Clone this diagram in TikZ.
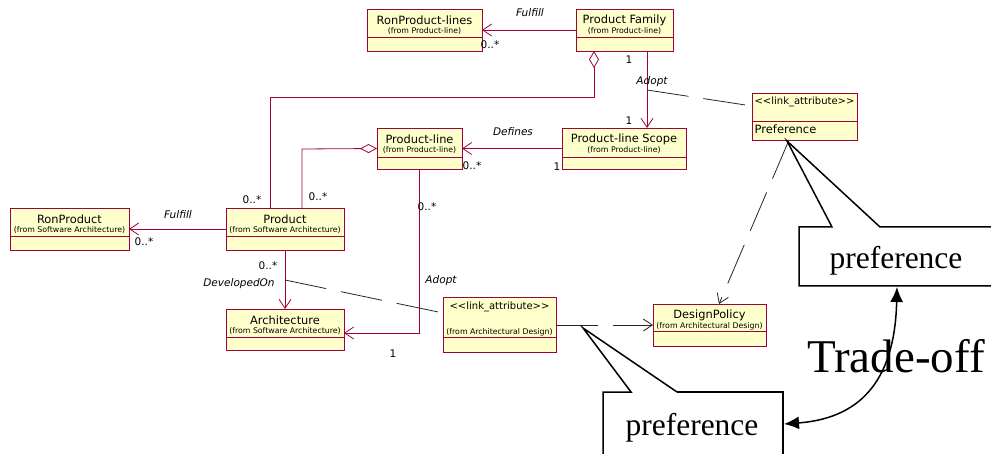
\documentclass[tikz,border=0pt]{standalone}
\usepackage{fontspec}
\setmainfont{DejaVu Sans}
\newfontfamily\tms{Liberation Serif}
\usetikzlibrary{arrows.meta}
\definecolor{ucol}{RGB}{160,0,60}
\definecolor{ufill}{RGB}{255,255,204}
\tikzset{
  ubox/.style={draw=ucol, fill=ufill, line width=0.9pt, inner sep=0pt, outer sep=0pt, rectangle},
  ttl/.style={font=\fontsize{11.4}{13}\selectfont, inner sep=0pt},
  sub/.style={font=\fontsize{7.8}{9}\selectfont, inner sep=0pt},
  lbl/.style={font=\fontsize{10.5}{12}\selectfont, inner sep=0pt},
  ilbl/.style={font=\fontsize{10.5}{12}\selectfont\itshape, inner sep=0pt},
  stereo/.style={font=\fontsize{10}{12}\selectfont, inner sep=0pt},
  uline/.style={draw=ucol, line width=0.8pt},
  dline/.style={draw=black!85, line width=0.8pt, dash pattern=on 42pt off 15pt},
  barb/.tip={Straight Barb[length=9pt,width=12pt]},
  callout/.style={draw=black, line width=1.5pt, line join=miter},
  bigtxt/.style={font=\tms\fontsize{31.5}{34}\selectfont, inner sep=0pt},
}
\newcommand\umlclass[8]{%
  \node[ubox, minimum width={(#4)-(#2)}, minimum height={(#5)-(#3)}, anchor=north west] (#1) at (#2,#3) {};
  \draw[draw=ucol, line width=0.9pt] (#2,#6) -- (#4,#6);
  \node[ttl] at ([yshift=-11pt]#1.north) {#7};
  \node[sub] at ([yshift=-22.5pt]#1.north) {#8};
}
\begin{document}
\begin{tikzpicture}[x=1pt,y=-1pt]
\useasboundingbox (0,0) rectangle (991,454);
\clip (0,0) rectangle (991,454);

% classes
\umlclass{rpl}{367}{9}{482}{51}{37}{RonProduct-lines}{(from Product-line)}
\umlclass{pf}{576}{9}{673}{51}{37}{Product Family}{(from Product-line)}
\umlclass{pl}{377}{128}{462}{169}{157}{Product-line}{(from Product-line)}
\umlclass{pls}{562}{128}{686}{169}{157}{Product-line Scope}{(from Product-line)}
\umlclass{rp}{10}{208}{129}{250}{236}{RonProduct}{(from Software Architecture)}
\umlclass{prod}{226}{208}{344}{250}{236}{Product}{(from Software Architecture)}
\umlclass{arch}{226}{309}{344}{350}{337}{Architecture}{(from Software Architecture)}
\umlclass{dp}{653}{304}{766}{346}{331}{DesignPolicy}{(from Architectural Design)}

% link attribute (lower)
\node[ubox, minimum width=113pt, minimum height=55pt, anchor=north west] (lal) at (443,297) {};
\draw[draw=ucol, line width=0.9pt] (443,337) -- (556,337);
\node[stereo] at ([yshift=-9.5pt]lal.north) {<{}<link\_attribute>{}>};
\node[sub] at ([yshift=-35pt]lal.north) {(from Architectural Design)};

% link attribute (upper)
\node[ubox, minimum width=105pt, minimum height=47pt, anchor=north west] (lau) at (752,93) {};
\draw[draw=ucol, line width=0.9pt] (752,121) -- (857,121);
\node[stereo] at ([yshift=-9pt]lau.north) {<{}<link\_attribute>{}>};
\node[lbl, font=\fontsize{11.5}{13}\selectfont, anchor=west] at ([xshift=2.5pt,yshift=-36pt]lau.north west) {Preference};

% connectors
\draw[uline, -barb] (pf.west) -- (rpl.east);
\node[ilbl] at (530,13) {Fulfill};
\node[lbl] at (490,45) {0..*};

\draw[uline, {Diamond[open,length=17pt,width=10pt]}-] ([xshift=18pt]pf.south west) -- (594,97) -- (270,97) -- ([xshift=44pt]prod.north west);

\draw[uline, -barb] ([xshift=71pt]pf.south west) -- ([xshift=85pt]pls.north west);
\node[lbl] at (629,60) {1};
\node[ilbl] at (652,82) {Adopt};
\node[lbl] at (629,121) {1};
\coordinate (a1) at (647,90);
\draw[dline] (a1) -- ([yshift=-13pt]lau.north west);

\draw[uline, -barb] (pls.west) -- (pl.east);
\node[ilbl] at (513,132) {Defines};
\node[lbl] at (472,166) {0..*};
\node[lbl] at (557,167) {1};

\draw[uline, {Diamond[open,length=17pt,width=9pt]}-] (pl.west) -- (302,149) -- ([xshift=76pt]prod.north west);
\node[lbl] at (252,200) {0..*};
\node[lbl] at (318,197) {0..*};

\draw[uline, -barb] ([xshift=42pt]pl.south west) -- (419,333) -- ([yshift=-24pt]arch.north east);
\node[lbl] at (427,207) {0..*};
\node[ilbl] at (441,281) {Adopt};
\node[lbl] at (393,354) {1};

\draw[uline, -barb] (prod.west) -- (rp.east);
\node[ilbl] at (178,215) {Fulfill};
\node[lbl] at (144,242) {0..*};

\draw[uline, -barb] ([xshift=59pt]prod.south west) -- ([xshift=59pt]arch.north west);
\node[lbl] at (268,266) {0..*};
\node[ilbl] at (239,284) {DevelopedOn};
\coordinate (a2) at (285,280);
\draw[dline] (a2) -- ([yshift=-16pt]lal.north west);

\draw[dline, -barb] ([yshift=-28pt]lal.north east) -- ([yshift=-21pt]dp.north west);
\draw[dline, -barb] ([xshift=37pt]lau.south west) -- ([xshift=66pt]dp.north west);

% callouts
\draw[callout] (1000,227) -- (880,227) -- (787,141) -- (832,227) -- (799,227) -- (799,286) -- (1000,286);
\node[bigtxt, anchor=base] (pref1) at (896,269) {preference};
\draw[callout] (677,392) -- (583,328) -- (631,392) -- (603,392) -- (603,460);
\draw[callout] (677,392) -- (783,392) -- (783,460);
\node[bigtxt, anchor=base] (pref2) at (692,435) {preference};

\node[font=\tms\fontsize{47}{50}\selectfont, inner sep=0pt, anchor=base] (tradeoff) at (896,373) {Trade-off};

\coordinate (c1) at (897,287);
\coordinate (c2) at (784,424);
\draw[line width=1.5pt, {Latex[length=15pt,width=13pt]}-{Latex[length=15pt,width=13pt]}] (c1) .. controls (895,375) and (865,418) .. (c2);
\end{tikzpicture}
\end{document}
